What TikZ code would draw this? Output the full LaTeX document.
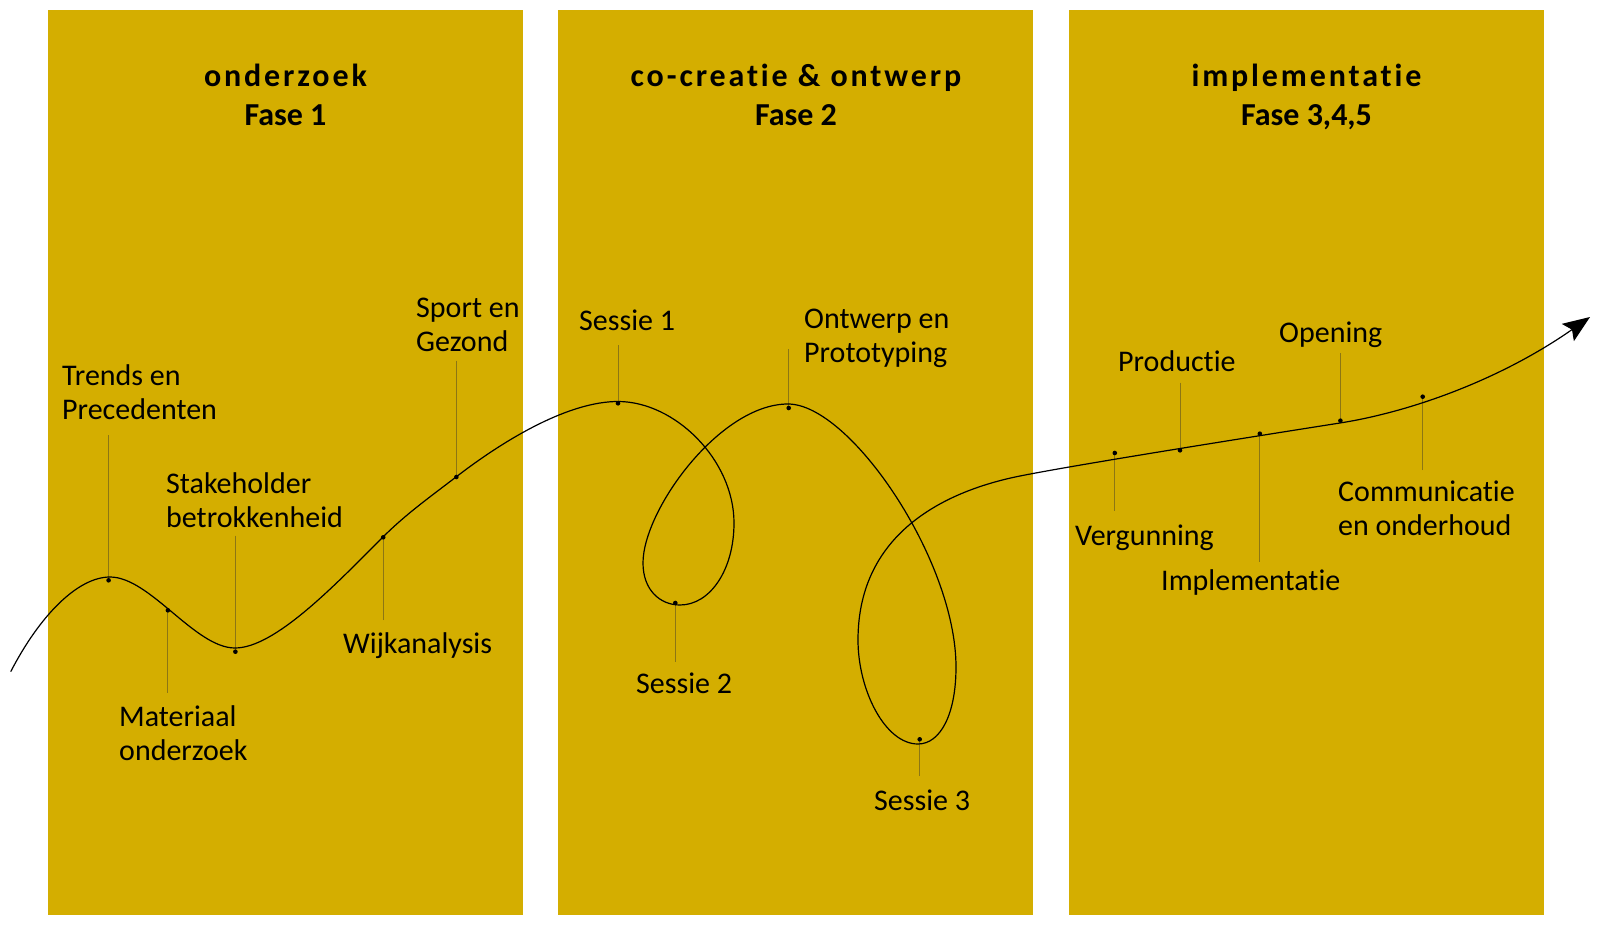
\documentclass[tikz,border=0pt]{standalone}
\usepackage{fontspec}
\setmainfont{Carlito}[Ligatures=NoCommon]
\newfontfamily\ttlspaced[LetterSpace=9,Ligatures=NoCommon]{Carlito}
\usetikzlibrary{arrows.meta}
\definecolor{gold}{RGB}{212,174,0}
\definecolor{leadcol}{RGB}{140,118,20}
\begin{document}
\begin{tikzpicture}[x=1pt,y=-1pt,
  panel/.style={fill=gold, draw=none, anchor=north west, inner sep=0pt, minimum width=475pt, minimum height=905pt},
  lbl/.style={anchor=base west, inner sep=0pt, align=left, font=\fontsize{30}{34.5}\selectfont},
  ttl/.style={anchor=base, inner sep=0pt, align=center, font=\fontsize{32}{39}\selectfont\bfseries},
  dotnode/.style={circle, fill=black, inner sep=0pt, minimum size=4.6pt},
  leadline/.style={draw=leadcol, line width=0.9pt},
  curveline/.style={line width=1.2pt, draw=black}
]
\useasboundingbox (0,0) rectangle (1604,928);
\fill[white] (0,0) rectangle (1604,928);

% panels
\node[panel] (p1) at (48,10) {};
\node[panel] (p2) at (558,10) {};
\node[panel] (p3) at (1069,10) {};

% titles (anchor base = baseline of last line)
\node[ttl] (t1) at (285.5,126) {{\ttlspaced\bfseries onderzoek}\\Fase 1};
\node[ttl] (t2) at (796,126) {{\ttlspaced\bfseries co-creatie \& ontwerp}\\Fase 2};
\node[ttl] (t3) at (1306.5,126) {{\ttlspaced\bfseries implementatie}\\Fase 3,4,5};

% dot coordinates
\coordinate (c1) at (108.6,580.3);
\coordinate (c2) at (167.9,610.3);
\coordinate (c3) at (235.4,651.7);
\coordinate (c4) at (383.2,537.3);
\coordinate (c5) at (456.4,477);
\coordinate (c6) at (618,403.3);
\coordinate (c7) at (675.3,603);
\coordinate (c8) at (788.7,408);
\coordinate (c9) at (919.7,739.3);
\coordinate (c10) at (1114.8,453);
\coordinate (c11) at (1180,450.3);
\coordinate (c12) at (1259.8,433.7);
\coordinate (c13) at (1340.4,420.7);
\coordinate (c14) at (1422.7,396.7);

% leader ends
\coordinate (e1) at (108.6,435);
\coordinate (e2) at (167.9,692.7);
\coordinate (e3) at (235.4,535.7);
\coordinate (e4) at (383.2,620);
\coordinate (e5) at (456.4,360.7);
\coordinate (e6) at (618,345);
\coordinate (e7) at (675.3,661.7);
\coordinate (e8) at (788.7,349.3);
\coordinate (e9) at (919.7,776);
\coordinate (e10) at (1114.8,510.7);
\coordinate (e11) at (1180,382.7);
\coordinate (e12) at (1259.8,561.7);
\coordinate (e13) at (1340.4,353.3);
\coordinate (e14) at (1422.7,470);

\foreach \i in {1,...,14} { \draw[leadline] (e\i) -- (c\i); }

% main curve
\draw[curveline, -{Stealth[length=27pt,width=21pt,inset=5pt]}]
 (10.7,671.7) .. controls (40,615) and (78,577) .. (110,577)
 .. controls (150,577) and (195,648) .. (235,648)
 .. controls (275,648) and (335,585) .. (383,537)
 .. controls (406,514) and (430,497) .. (456,477)
 .. controls (508,437) and (570,401.5) .. (618,401.5)
 .. controls (675,401.5) and (734,460) .. (734,523)
 .. controls (734,570) and (710,605) .. (680,605)
 .. controls (660,605) and (643,590) .. (643,563)
 .. controls (643,510) and (720,404) .. (788,404)
 .. controls (850,404) and (956,560) .. (956,667)
 .. controls (956,715) and (940,744) .. (918,744)
 .. controls (885,744) and (858,690) .. (858,640)
 .. controls (858,530) and (950,490) .. (1020,476)
 .. controls (1080,464) and (1270,434) .. (1340,423)
 .. controls (1410,412) and (1500,380) .. (1590,317);

% dots
\foreach \i in {1,...,14} { \node[dotnode] (d\i) at (c\i) {}; }

% labels (anchor base = baseline of last line)
\node[lbl] (l1) at (62,419.5) {Trends en\\Precedenten};
\node[lbl] (l2) at (119,760.5) {Materiaal\\onderzoek};
\node[lbl] (l3) at (166,527.5) {Stakeholder\\betrokkenheid};
\node[lbl] (l4) at (343,653) {Wijkanalysis};
\node[lbl] (l5) at (416,351.5) {Sport en\\Gezond};
\node[lbl] (l6) at (579,330) {Sessie 1};
\node[lbl] (l7) at (636,693) {Sessie 2};
\node[lbl] (l8) at (804,362.5) {Ontwerp en\\Prototyping};
\node[lbl] (l9) at (874,810) {Sessie 3};
\node[lbl] (l10) at (1075,545) {Vergunning};
\node[lbl] (l11) at (1118,371) {Productie};
\node[lbl] (l12) at (1161,590) {Implementatie};
\node[lbl] (l13) at (1279,342) {Opening};
\node[lbl] (l14) at (1338,535.5) {Communicatie\\en onderhoud};
\end{tikzpicture}
\end{document}
